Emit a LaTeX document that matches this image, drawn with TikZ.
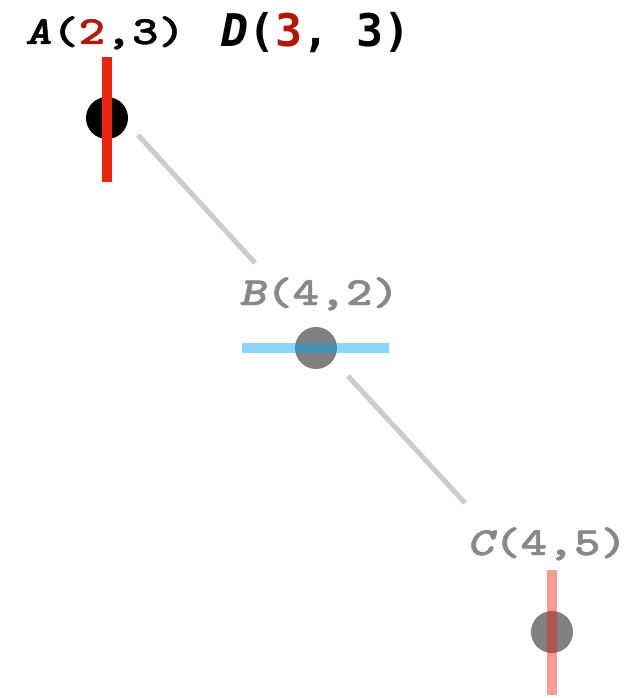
\documentclass[tikz,border=0pt]{standalone}
\usepackage{fontspec}
\usepackage{xcolor}
\usepackage{tikz}
\newfontfamily\labfont{lmmonolt10-bold.otf}[ItalicFont=lmmonolt10-boldoblique.otf, FakeStretch=1.27, FakeBold=1.2]
\newfontfamily\headfont{DejaVu Sans Mono}
\definecolor{ptred}{RGB}{238,34,17}
\definecolor{numred}{RGB}{178,24,8}
\definecolor{ptblue}{RGB}{0,160,240}
\definecolor{linkgray}{RGB}{204,204,204}
\definecolor{dotgray}{RGB}{128,128,128}
\definecolor{labgray}{RGB}{136,136,136}

\begin{document}
\begin{tikzpicture}[x=1pt, y=-1pt,
    dot/.style={circle, minimum size=42pt, inner sep=0pt},
    bar/.style={line width=10pt},
    link/.style={draw=linkgray, line width=5pt},
    lab/.style={anchor=base west, inner sep=0pt,
                font=\labfont\fontsize{40}{40}\selectfont}]
  \useasboundingbox (0,0) rectangle (635,698);
  % points
  \node[dot, fill=black] (a) at (107,118) {};
  \node[dot, fill=dotgray] (b) at (316,348) {};
  \node[dot, fill=dotgray] (c) at (552,632) {};
  % crossing bars
  \draw[bar, ptred] (a.center) ++(0,-61) coordinate (a1) -- ++(0,125);
  \draw[bar, ptblue, opacity=0.45] (b.center) ++(-74,0) -- ++(147,0);
  \draw[bar, ptred, opacity=0.45] (c.center) ++(0,-62) -- ++(0,125);
  % labels
  \node[lab] (alab) at (25,44) {{\itshape A}(\textcolor{numred}{2},3)};
  \node[lab, anchor=base west, font=\headfont\fontsize{45}{45}\selectfont\bfseries]
    (dlab) at (221,47) {{\itshape D}(\textcolor{numred}{3}, 3)};
  \node[lab, text=labgray] (blab) at (239,305) {{\itshape B}(4,2)};
  \node[lab, text=labgray] (clab) at (467,555) {{\itshape C}(4,5)};
  % links
  \coordinate (ab1) at (138,135);
  \coordinate (ab2) at (255,263);
  \coordinate (bc1) at (348,376);
  \coordinate (bc2) at (465,503);
  \draw[link] (ab1) -- (ab2);
  \draw[link] (bc1) -- (bc2);
\end{tikzpicture}
\end{document}
